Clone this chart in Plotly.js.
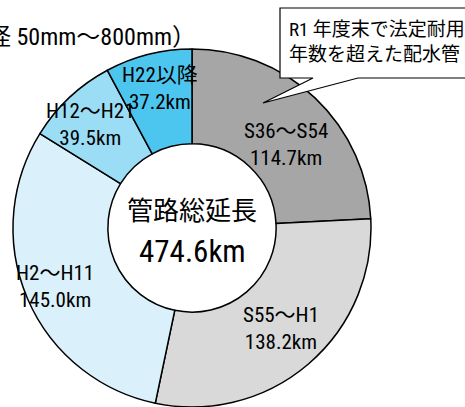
<!DOCTYPE html>
<html><head><meta charset="utf-8">
<script src="https://cdn.plot.ly/plotly-3.0.1.min.js"></script>
<style>html,body{margin:0;padding:0;background:#fff;}#chart{width:465px;height:407px;}</style>
</head><body><div id="chart"></div>
<script>
// ---- data ----
const periods = ["S36～S54", "S55～H1", "H2～H11", "H12～H21", "H22以降"];
const lengthsKm = [114.7, 138.2, 145.0, 39.5, 37.2];
const sliceColors = ["#A6A6A6", "#D9D9D9", "#DAF1FB", "#9BDDF5", "#4DC6EF"];
const totalLabel = "管路総延長";
const totalKm = 474.6;
const titleText = "（口径 50mm～800mm）";
const calloutLines = ["R1 年度末で法定耐用", "年数を超えた配水管"];

// ---- layout geometry (not data) ----
const W = 465, H = 407;
const cxPx = 192, topPx = 49, R = 179;
const cyPx = topPx + R;
const hole = 0.47;
const labelRadius = [0.70, 0.75, 0.83, 0.81, 0.80];
const labelAngleShift = [5, -1, 0, -1, 1];
const FONT = "'Roboto Condensed', 'Noto Sans CJK JP', sans-serif";
const px = x => x / W, py = y => 1 - y / H;

const trace = {
  type: "pie",
  values: lengthsKm,
  labels: periods,
  marker: {colors: sliceColors, line: {color: "#000", width: 1.5}},
  hole: hole,
  sort: false,
  direction: "clockwise",
  rotation: 0,
  textinfo: "none",
  hoverinfo: "none",
  showlegend: false,
  domain: {x: [px(cxPx - R), px(cxPx + R)], y: [0, py(topPx)]}
};

const total = lengthsKm.reduce((a, b) => a + b, 0);
const annotations = [];
let cum = 0;
lengthsKm.forEach((v, i) => {
  const mid = ((cum + v / 2) / total * 360 + labelAngleShift[i]) * Math.PI / 180;
  cum += v;
  const r = labelRadius[i] * R;
  const x = cxPx + r * Math.sin(mid);
  const y = cyPx - r * Math.cos(mid);
  annotations.push({
    x: px(x), y: py(y), xref: "paper", yref: "paper",
    text: periods[i] + "<br>" + v.toFixed(1) + "km",
    showarrow: false, xanchor: "center", yanchor: "middle",
    font: {family: FONT, size: 21, color: "#000"}
  });
});

annotations.push({x: px(cxPx), y: py(cyPx - 17), xref: "paper", yref: "paper",
  text: totalLabel, showarrow: false, font: {family: FONT, size: 26, color: "#000"}});
annotations.push({x: px(cxPx), y: py(cyPx + 23), xref: "paper", yref: "paper",
  text: totalKm.toFixed(1) + "km", showarrow: false, font: {family: FONT, size: 31, color: "#000"}});
annotations.push({x: px(198), y: py(21), xref: "paper", yref: "paper", xanchor: "right",
  text: titleText, showarrow: false, font: {family: FONT, size: 24, color: "#000"}});
annotations.push({x: px(287), y: py(42), xref: "paper", yref: "paper", xanchor: "left", yanchor: "middle",
  align: "left", text: calloutLines.join("<br>"), showarrow: false,
  font: {family: FONT, size: 19, color: "#000"}});

const shapes = [
  {type: "path", xref: "paper", yref: "paper",
   path: `M ${px(280)} ${py(8)} L ${px(470)} ${py(8)} L ${px(470)} ${py(78)} L ${px(358)} ${py(78)} L ${px(263)} ${py(103)} L ${px(313)} ${py(78)} L ${px(280)} ${py(78)} Z`,
   fillcolor: "#fff", line: {color: "#000", width: 1.2}, layer: "above"}
];

const layout = {
  width: W, height: H,
  margin: {l: 0, r: 0, t: 0, b: 0},
  paper_bgcolor: "#fff",
  showlegend: false,
  annotations: annotations,
  shapes: shapes
};
Plotly.newPlot("chart", [trace], layout, {displayModeBar: false, staticPlot: true});
</script></body></html>
